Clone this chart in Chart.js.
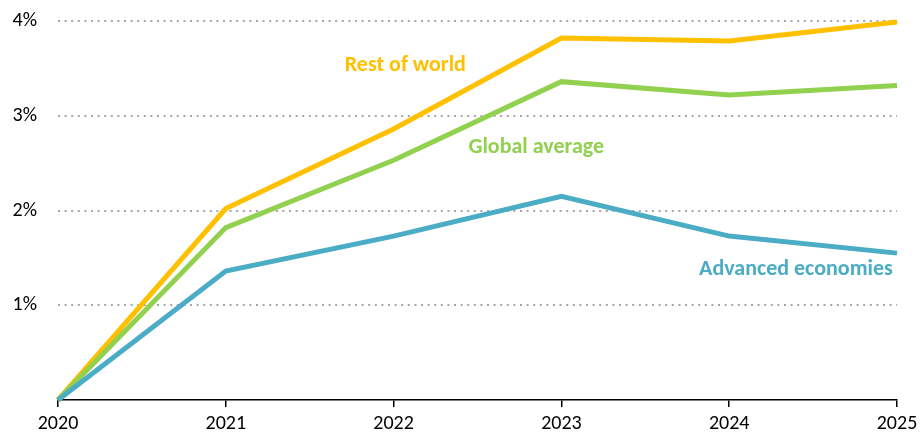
<!DOCTYPE html>
<html>
<head>
<meta charset="utf-8">
<script src="https://cdn.jsdelivr.net/npm/chart.js@4"></script>
<style>
  html, body { margin: 0; padding: 0; background: #fff; }
  #wrap { width: 924px; height: 433px; }
</style>
</head>
<body>
<div id="wrap"><canvas id="graph" width="924" height="433"></canvas></div>
<script>
const years = ['2020', '2021', '2022', '2023', '2024', '2025']
const restOfWorld = [0, 2.02, 2.86, 3.82, 3.79, 3.99]
const globalAverage = [0, 1.82, 2.53, 3.36, 3.22, 3.32]
const advancedEconomies = [0, 1.36, 1.73, 2.15, 1.73, 1.55]
const yTicks = [1, 2, 3, 4]

const FONT = "Carlito, Lato, 'Liberation Sans', sans-serif"

// series names written next to their lines, placed in axis units
const seriesLabels = [
    { text: 'Rest of world', x: 2.07, y: 3.53, color: '#FFC000', align: 'center' },
    { text: 'Global average', x: 2.85, y: 2.67, color: '#92D050', align: 'center' },
    { text: 'Advanced economies', x: 4.975, y: 1.38, color: '#4BACC6', align: 'right' }
]

const labelPlugin = {
    id: 'seriesLabels',
    afterDatasetsDraw(chart){
        const ctx = chart.ctx
        const xs = chart.scales.x
        const ys = chart.scales.y
        ctx.save()
        ctx.font = "bold 22px " + FONT
        ctx.textBaseline = 'middle'
        for(let l of seriesLabels){
            ctx.fillStyle = l.color
            ctx.textAlign = l.align
            ctx.fillText(l.text, xs.getPixelForValue(l.x), ys.getPixelForValue(l.y))
        }
        ctx.restore()
    }
}

function setGraph(){
    const ctx = document.getElementById('graph').getContext('2d')
    const line = (label, data, color) => ({
        label, data,
        borderColor: color,
        backgroundColor: color,
        borderWidth: 5,
        pointRadius: 0,
        tension: 0,
        clip: false
    })
    new Chart(ctx, {
        type: 'line',
        data: {
            labels: years,
            datasets: [
                line('Advanced economies', advancedEconomies, '#4BACC6'),
                line('Global average', globalAverage, '#92D050'),
                line('Rest of world', restOfWorld, '#FFC000')
            ]
        },
        options: {
            responsive: false,
            animation: false,
            layout: { padding: { top: 21, right: 27, left: 0, bottom: 0 } },
            plugins: {
                legend: { display: false },
                tooltip: { enabled: false }
            },
            scales: {
                x: {
                    offset: false,
                    border: { display: true, color: '#000', width: 1.5 },
                    grid: { drawOnChartArea: false, drawTicks: true, tickLength: 7, color: '#000', lineWidth: 1.5 },
                    ticks: { color: '#000', font: { family: FONT, size: 20 }, padding: 5, maxRotation: 0 },
                    afterFit(scale){ scale.height = 33 }
                },
                y: {
                    min: 0,
                    max: 4,
                    border: { display: false, dash: [2, 4.6] },
                    grid: {
                        drawTicks: false,
                        color: (c) => c.tick.value === 0 ? 'rgba(0,0,0,0)' : '#A6A6A6',
                        lineWidth: 2
                    },
                    afterBuildTicks(scale){
                        scale.ticks = [0].concat(yTicks).map(v => ({ value: v }))
                    },
                    ticks: {
                        color: '#000',
                        font: { family: FONT, size: 20 },
                        padding: 21,
                        callback: (v) => v === 0 ? '' : v + '%'
                    },
                    afterFit(scale){
                        scale.width = 58
                        scale.paddingTop = 0
                        scale.paddingBottom = 0
                    }
                }
            }
        },
        plugins: [labelPlugin]
    })
}

setGraph()
</script>
</body>
</html>
